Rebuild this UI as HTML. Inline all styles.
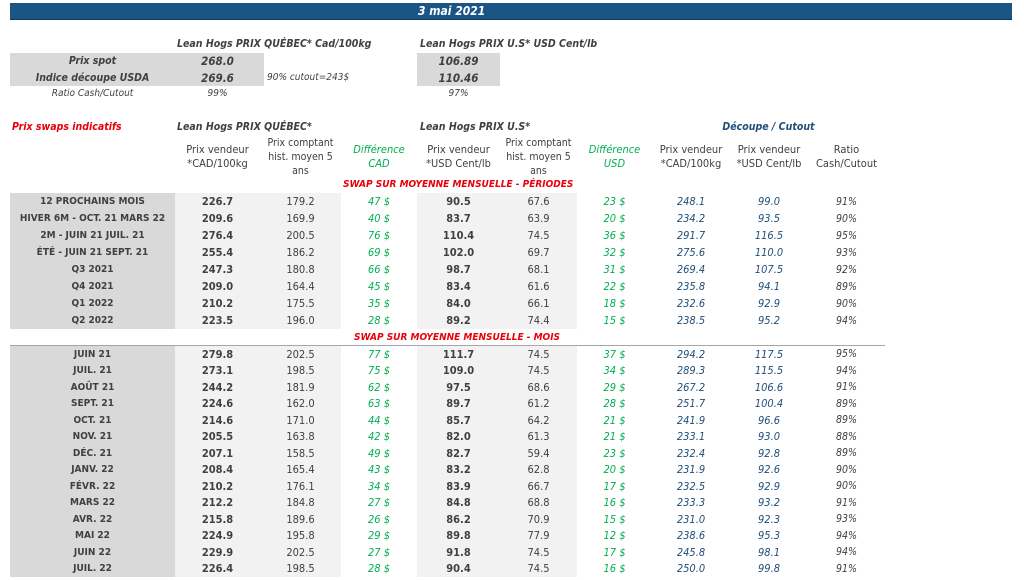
<!DOCTYPE html>
<html><head><meta charset="utf-8"><style>
body{margin:0;width:1024px;height:580px;overflow:hidden;background:#fff;font-family:"DejaVu Sans Condensed","Liberation Sans",sans-serif;color:#404040;position:relative}
.a{position:absolute;white-space:nowrap}
.bar{left:10px;top:3px;width:1002px;height:16px;background:#1a5586;border-bottom:1px solid #0e3a60}
.it{font-style:italic}
.b{font-weight:bold}
table{position:absolute;border-collapse:collapse;table-layout:fixed;left:10px;font-size:11px}
td{padding:0;text-align:center;white-space:nowrap;overflow:visible}
td.l{background:#d9d9d9;font-weight:bold;font-size:10px}
td.g{background:#f2f2f2}
td.v{font-weight:bold}
td.d{color:#00b050;font-style:italic}
td.u{color:#1f4e79;font-style:italic}
td.r{font-style:italic;font-size:10.5px}
.red{color:#e8000b;font-style:italic;font-weight:bold}
</style></head><body>
<div class="a bar"></div>
<div class="a it b" style="left:418px;top:4px;color:#fff;font-size:12px">3 mai 2021</div>

<div class="a it b" style="left:177px;top:38px;font-size:10.5px">Lean Hogs PRIX QUÉBEC* Cad/100kg</div>
<div class="a it b" style="left:420px;top:38px;font-size:10.5px">Lean Hogs PRIX U.S* USD Cent/lb</div>
<div class="a" style="left:10px;top:53px;width:254px;height:33px;background:#d9d9d9"></div>
<div class="a" style="left:417px;top:53px;width:83px;height:33px;background:#d9d9d9"></div>
<div class="a it b" style="left:10px;top:55px;width:165px;text-align:center;font-size:10.5px">Prix spot</div>
<div class="a it b" style="left:10px;top:72px;width:165px;text-align:center;font-size:10.5px">Indice découpe USDA</div>
<div class="a it b" style="left:175px;top:54px;width:85px;text-align:center;font-size:11.5px">268.0</div>
<div class="a it b" style="left:175px;top:71px;width:85px;text-align:center;font-size:11.5px">269.6</div>
<div class="a it" style="left:267px;top:72px;font-size:10px">90% cutout=243$</div>
<div class="a it b" style="left:417px;top:54px;width:83px;text-align:center;font-size:11.5px">106.89</div>
<div class="a it b" style="left:417px;top:71px;width:83px;text-align:center;font-size:11.5px">110.46</div>
<div class="a it" style="left:10px;top:88px;width:165px;text-align:center;font-size:10px">Ratio Cash/Cutout</div>
<div class="a it" style="left:175px;top:88px;width:85px;text-align:center;font-size:10px">99%</div>
<div class="a it" style="left:417px;top:88px;width:83px;text-align:center;font-size:10px">97%</div>

<div class="a red" style="left:12px;top:121px;font-size:10.5px">Prix swaps indicatifs</div>
<div class="a it b" style="left:177px;top:121px;font-size:10.5px">Lean Hogs PRIX QUÉBEC*</div>
<div class="a it b" style="left:420px;top:121px;font-size:10.5px">Lean Hogs PRIX U.S*</div>
<div class="a it b" style="left:652px;top:121px;width:233px;text-align:center;font-size:10.5px;color:#1f4e79">Découpe / Cutout</div>

<div class="a" style="left:175px;top:143px;width:85px;text-align:center;font-size:11px;line-height:14px">Prix vendeur<br>*CAD/100kg</div>
<div class="a" style="left:260px;top:136px;width:81px;text-align:center;font-size:10.5px;line-height:14px">Prix comptant<br>hist. moyen 5<br>ans</div>
<div class="a it" style="left:341px;top:143px;width:76px;text-align:center;font-size:11px;line-height:14px;color:#00b050">Différence<br>CAD</div>
<div class="a" style="left:417px;top:143px;width:83px;text-align:center;font-size:11px;line-height:14px">Prix vendeur<br>*USD Cent/lb</div>
<div class="a" style="left:500px;top:136px;width:77px;text-align:center;font-size:10.5px;line-height:14px">Prix comptant<br>hist. moyen 5<br>ans</div>
<div class="a it" style="left:577px;top:143px;width:75px;text-align:center;font-size:11px;line-height:14px;color:#00b050">Différence<br>USD</div>
<div class="a" style="left:652px;top:143px;width:78px;text-align:center;font-size:11px;line-height:14px">Prix vendeur<br>*CAD/100kg</div>
<div class="a" style="left:730px;top:143px;width:78px;text-align:center;font-size:11px;line-height:14px">Prix vendeur<br>*USD Cent/lb</div>
<div class="a" style="left:808px;top:143px;width:77px;text-align:center;font-size:11px;line-height:14px">Ratio<br>Cash/Cutout</div>

<div class="a red" style="left:343px;top:179px;width:228px;text-align:center;font-size:10px">SWAP SUR MOYENNE MENSUELLE - PÉRIODES</div>

<table style="top:193px">
<colgroup><col style="width:165px"><col style="width:85px"><col style="width:81px"><col style="width:76px"><col style="width:83px"><col style="width:77px"><col style="width:75px"><col style="width:78px"><col style="width:78px"><col style="width:77px"></colgroup>
<tr style="height:17px"><td class="l">12 PROCHAINS MOIS</td><td class="g v">226.7</td><td class="g">179.2</td><td class="d">47 $</td><td class="g v">90.5</td><td class="g">67.6</td><td class="d">23 $</td><td class="u">248.1</td><td class="u">99.0</td><td class="r">91%</td></tr>
<tr style="height:17px"><td class="l">HIVER 6M - OCT. 21 MARS 22</td><td class="g v">209.6</td><td class="g">169.9</td><td class="d">40 $</td><td class="g v">83.7</td><td class="g">63.9</td><td class="d">20 $</td><td class="u">234.2</td><td class="u">93.5</td><td class="r">90%</td></tr>
<tr style="height:17px"><td class="l">2M - JUIN 21 JUIL. 21</td><td class="g v">276.4</td><td class="g">200.5</td><td class="d">76 $</td><td class="g v">110.4</td><td class="g">74.5</td><td class="d">36 $</td><td class="u">291.7</td><td class="u">116.5</td><td class="r">95%</td></tr>
<tr style="height:17px"><td class="l">ÉTÉ - JUIN 21 SEPT. 21</td><td class="g v">255.4</td><td class="g">186.2</td><td class="d">69 $</td><td class="g v">102.0</td><td class="g">69.7</td><td class="d">32 $</td><td class="u">275.6</td><td class="u">110.0</td><td class="r">93%</td></tr>
<tr style="height:17px"><td class="l">Q3 2021</td><td class="g v">247.3</td><td class="g">180.8</td><td class="d">66 $</td><td class="g v">98.7</td><td class="g">68.1</td><td class="d">31 $</td><td class="u">269.4</td><td class="u">107.5</td><td class="r">92%</td></tr>
<tr style="height:17px"><td class="l">Q4 2021</td><td class="g v">209.0</td><td class="g">164.4</td><td class="d">45 $</td><td class="g v">83.4</td><td class="g">61.6</td><td class="d">22 $</td><td class="u">235.8</td><td class="u">94.1</td><td class="r">89%</td></tr>
<tr style="height:17px"><td class="l">Q1 2022</td><td class="g v">210.2</td><td class="g">175.5</td><td class="d">35 $</td><td class="g v">84.0</td><td class="g">66.1</td><td class="d">18 $</td><td class="u">232.6</td><td class="u">92.9</td><td class="r">90%</td></tr>
<tr style="height:17px"><td class="l">Q2 2022</td><td class="g v">223.5</td><td class="g">196.0</td><td class="d">28 $</td><td class="g v">89.2</td><td class="g">74.4</td><td class="d">15 $</td><td class="u">238.5</td><td class="u">95.2</td><td class="r">94%</td></tr>
</table>

<div class="a red" style="left:343px;top:332px;width:228px;text-align:center;font-size:10px">SWAP SUR MOYENNE MENSUELLE - MOIS</div>
<div class="a" style="left:10px;top:345px;width:875px;height:1px;background:#a6a6a6"></div>

<table style="top:346px">
<colgroup><col style="width:165px"><col style="width:85px"><col style="width:81px"><col style="width:76px"><col style="width:83px"><col style="width:77px"><col style="width:75px"><col style="width:78px"><col style="width:78px"><col style="width:77px"></colgroup>
<tr style="height:16.5px"><td class="l">JUIN 21</td><td class="g v">279.8</td><td class="g">202.5</td><td class="d">77 $</td><td class="g v">111.7</td><td class="g">74.5</td><td class="d">37 $</td><td class="u">294.2</td><td class="u">117.5</td><td class="r">95%</td></tr>
<tr style="height:16.5px"><td class="l">JUIL. 21</td><td class="g v">273.1</td><td class="g">198.5</td><td class="d">75 $</td><td class="g v">109.0</td><td class="g">74.5</td><td class="d">34 $</td><td class="u">289.3</td><td class="u">115.5</td><td class="r">94%</td></tr>
<tr style="height:16.5px"><td class="l">AOÛT 21</td><td class="g v">244.2</td><td class="g">181.9</td><td class="d">62 $</td><td class="g v">97.5</td><td class="g">68.6</td><td class="d">29 $</td><td class="u">267.2</td><td class="u">106.6</td><td class="r">91%</td></tr>
<tr style="height:16.5px"><td class="l">SEPT. 21</td><td class="g v">224.6</td><td class="g">162.0</td><td class="d">63 $</td><td class="g v">89.7</td><td class="g">61.2</td><td class="d">28 $</td><td class="u">251.7</td><td class="u">100.4</td><td class="r">89%</td></tr>
<tr style="height:16.5px"><td class="l">OCT. 21</td><td class="g v">214.6</td><td class="g">171.0</td><td class="d">44 $</td><td class="g v">85.7</td><td class="g">64.2</td><td class="d">21 $</td><td class="u">241.9</td><td class="u">96.6</td><td class="r">89%</td></tr>
<tr style="height:16.5px"><td class="l">NOV. 21</td><td class="g v">205.5</td><td class="g">163.8</td><td class="d">42 $</td><td class="g v">82.0</td><td class="g">61.3</td><td class="d">21 $</td><td class="u">233.1</td><td class="u">93.0</td><td class="r">88%</td></tr>
<tr style="height:16.5px"><td class="l">DÉC. 21</td><td class="g v">207.1</td><td class="g">158.5</td><td class="d">49 $</td><td class="g v">82.7</td><td class="g">59.4</td><td class="d">23 $</td><td class="u">232.4</td><td class="u">92.8</td><td class="r">89%</td></tr>
<tr style="height:16.5px"><td class="l">JANV. 22</td><td class="g v">208.4</td><td class="g">165.4</td><td class="d">43 $</td><td class="g v">83.2</td><td class="g">62.8</td><td class="d">20 $</td><td class="u">231.9</td><td class="u">92.6</td><td class="r">90%</td></tr>
<tr style="height:16.5px"><td class="l">FÉVR. 22</td><td class="g v">210.2</td><td class="g">176.1</td><td class="d">34 $</td><td class="g v">83.9</td><td class="g">66.7</td><td class="d">17 $</td><td class="u">232.5</td><td class="u">92.9</td><td class="r">90%</td></tr>
<tr style="height:16.5px"><td class="l">MARS 22</td><td class="g v">212.2</td><td class="g">184.8</td><td class="d">27 $</td><td class="g v">84.8</td><td class="g">68.8</td><td class="d">16 $</td><td class="u">233.3</td><td class="u">93.2</td><td class="r">91%</td></tr>
<tr style="height:16.5px"><td class="l">AVR. 22</td><td class="g v">215.8</td><td class="g">189.6</td><td class="d">26 $</td><td class="g v">86.2</td><td class="g">70.9</td><td class="d">15 $</td><td class="u">231.0</td><td class="u">92.3</td><td class="r">93%</td></tr>
<tr style="height:16.5px"><td class="l">MAI 22</td><td class="g v">224.9</td><td class="g">195.8</td><td class="d">29 $</td><td class="g v">89.8</td><td class="g">77.9</td><td class="d">12 $</td><td class="u">238.6</td><td class="u">95.3</td><td class="r">94%</td></tr>
<tr style="height:16.5px"><td class="l">JUIN 22</td><td class="g v">229.9</td><td class="g">202.5</td><td class="d">27 $</td><td class="g v">91.8</td><td class="g">74.5</td><td class="d">17 $</td><td class="u">245.8</td><td class="u">98.1</td><td class="r">94%</td></tr>
<tr style="height:16.5px"><td class="l">JUIL. 22</td><td class="g v">226.4</td><td class="g">198.5</td><td class="d">28 $</td><td class="g v">90.4</td><td class="g">74.5</td><td class="d">16 $</td><td class="u">250.0</td><td class="u">99.8</td><td class="r">91%</td></tr>
</table>
</body></html>
